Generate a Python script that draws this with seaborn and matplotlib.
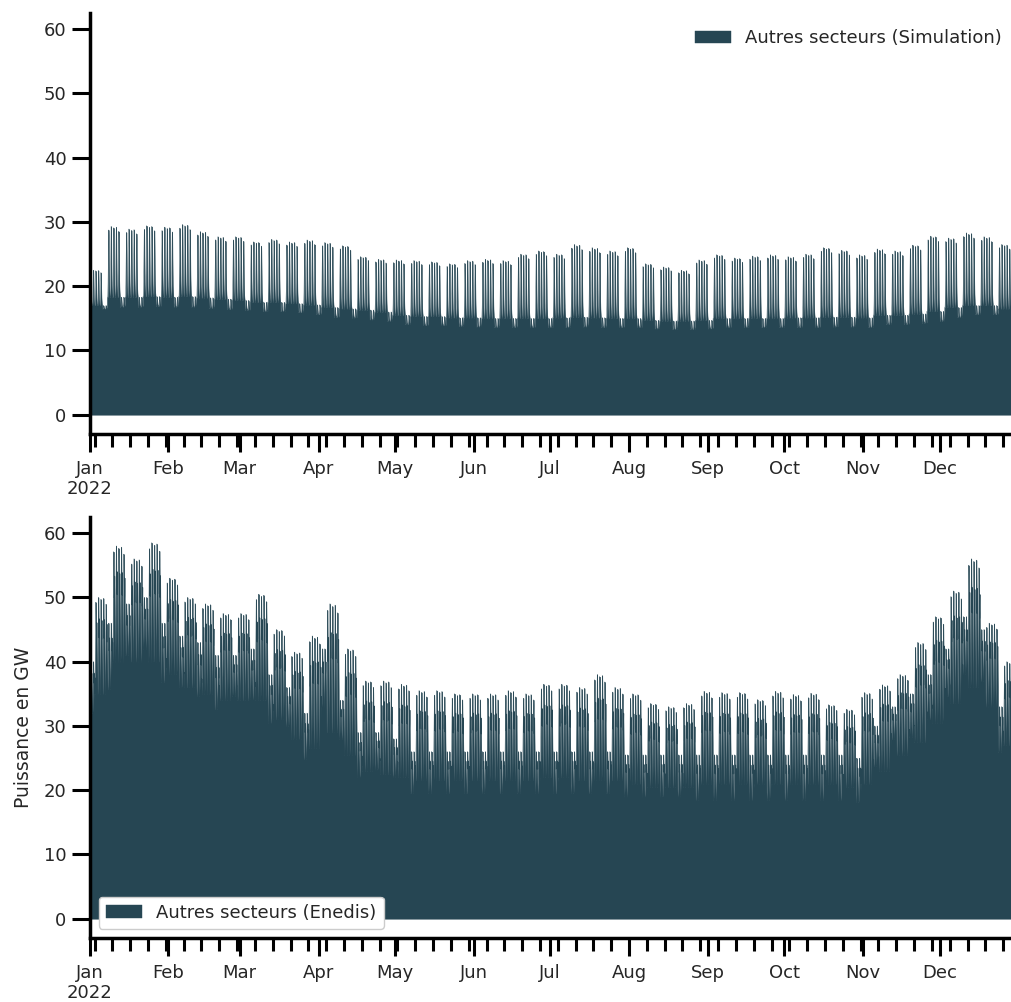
import numpy as np
import pandas as pd
import matplotlib
matplotlib.use("Agg")
import matplotlib.pyplot as plt
import seaborn as sns

# valeurs hebdomadaires (GW), semaine k = jours 7k..7k+6
sim_pointe = [22.5, 29.3, 28.9, 29.4, 29.2, 29.6, 28.5, 27.7, 27.7, 26.9, 27.3, 26.9, 27.2,
              26.8, 26.3, 24.6, 24.2, 24.1, 24.0, 23.8, 23.5, 24.0, 24.2, 24.0, 25.0, 25.5,
              25.0, 26.5, 26.0, 25.5, 26.0, 23.5, 23.0, 22.5, 24.1, 24.9, 24.4, 24.7, 24.9,
              24.6, 25.0, 26.0, 25.6, 24.9, 25.8, 25.5, 26.4, 27.8, 27.5, 28.3, 27.7, 26.5, 26.0]
sim_creux = [17.0, 18.3, 18.3, 18.4, 18.3, 18.4, 18.2, 18.0, 17.8, 17.5, 17.5, 17.3, 17.1,
             16.7, 16.5, 16.3, 16.0, 15.5, 15.3, 15.3, 15.1, 15.1, 15.0, 15.0, 15.0, 15.0,
             15.1, 15.2, 15.1, 15.0, 15.0, 14.7, 14.6, 14.6, 14.7, 15.0, 15.0, 15.0, 15.0,
             15.1, 15.1, 15.2, 15.2, 15.1, 15.5, 15.5, 15.7, 16.1, 16.7, 17.0, 17.0, 16.5, 16.3]
sim_weekend = [16.5, 16.8, 16.8, 16.9, 16.8, 16.8, 16.6, 16.4, 16.3, 16.1, 16.1, 15.9, 15.6,
               15.2, 15.1, 14.8, 14.6, 14.1, 13.9, 13.9, 13.8, 13.7, 13.6, 13.6, 13.6, 13.6,
               13.6, 13.7, 13.6, 13.6, 13.6, 13.4, 13.3, 13.3, 13.4, 13.6, 13.6, 13.6, 13.6,
               13.6, 13.6, 13.7, 13.7, 13.6, 14.1, 14.1, 14.3, 14.6, 15.2, 15.6, 15.6, 15.1, 14.9]

ene_pointe = [50, 58, 56, 58.5, 53, 50, 49, 47.5, 47.5, 50.5, 45, 41.5, 44, 49, 42, 37, 37,
              36.5, 35.5, 35.5, 35, 35, 35, 35.5, 35, 36.5, 36.5, 36, 38, 36, 35, 33.5, 33,
              33.5, 35.4, 35.2, 35.2, 34.1, 35.4, 34.9, 35.1, 33.3, 32.6, 35.2, 36.4, 38, 43,
              47, 51, 56, 46, 40, 40]
ene_creux = [35, 40, 40, 40, 38, 36, 35, 34, 34, 34, 31, 28, 26.5, 29, 25.5, 23, 22.5, 22, 21.5,
             21.5, 21.5, 21.5, 21.5, 21.5, 21.5, 22, 22, 21.5, 21.5, 21.5, 21, 20.5, 20.5, 20.5,
             21, 21, 21, 21, 21, 21, 21, 21, 20.5, 21, 23, 25.5, 27.5, 30.5, 33.5, 36, 33, 27, 27]
ene_we_min = [32, 35.7, 41, 42, 36.8, 36.1, 34.6, 32.6, 34.6, 34.1, 30.5, 29.9, 24.8, 33, 27.9,
              22.1, 23.2, 22.1, 19.5, 19.5, 19.5, 19.5, 19.5, 19.5, 19.5, 19.5, 19.5, 19.5,
              19.5, 19.5, 19, 19, 19, 19, 18.5, 18.5, 18.5, 18.5, 18.5, 18.5, 18.5, 18.5, 18.5,
              18.1, 23.7, 27.9, 28.3, 31, 34.6, 38, 37, 25.9, 28]
ene_we_max = [40, 46, 49, 50, 46, 44, 43, 41, 41, 42, 38, 36, 32, 42, 34, 29, 29, 28, 26, 26,
              26, 26, 26, 26, 26, 26, 26, 26, 26, 26, 25.5, 25.5, 25.5, 25.5, 25.5, 25.5, 25.5,
              25.5, 25.5, 25.5, 25.5, 25.5, 25.5, 25, 30, 33, 35, 38, 42, 47, 45, 33, 36]

# forme journaliere (0 = creux de nuit, 1 = pointe)
profil_sim = [0.0, 0.0, 0.0, 0.0, 0.0, 0.03, 0.1, 0.2, 0.35, 0.55, 0.75, 0.92, 1.0, 0.92,
              0.75, 0.55, 0.38, 0.25, 0.17, 0.12, 0.08, 0.05, 0.03, 0.01]
profil_enedis = [0.18, 0.1, 0.04, 0.0, 0.0, 0.06, 0.2, 0.4, 0.58, 0.72, 0.84, 0.94, 1.0,
                 0.93, 0.8, 0.66, 0.58, 0.62, 0.72, 0.78, 0.66, 0.5, 0.37, 0.26]
# niveau relatif des cinq jours ouvres dans la semaine
niveau_jour = [0.95, 1.0, 0.98, 0.99, 0.93]

couleur = "#264653"

index = pd.date_range("2022-01-01", periods=8760, freq="h")
heure = np.arange(len(index)) % 24
jour = np.arange(len(index)) // 24
sem = jour // 7

nj = np.array(niveau_jour)

sp, sc, sw = np.array(sim_pointe), np.array(sim_creux), np.array(sim_weekend)
ps = np.array(profil_sim)[heure]
sim_ouvre = (jour % 7 < 5)
sim = np.where(sim_ouvre,
               sc[sem] + (sp[sem] - sc[sem]) * ps * nj[np.minimum(jour % 7, 4)],
               sw[sem] + (sc[sem] - sw[sem]) * ps)

ep, ec = np.array(ene_pointe), np.array(ene_creux)
emn, emx = np.array(ene_we_min), np.array(ene_we_max)
pe = np.array(profil_enedis)[heure]
ene_ouvre = (jour % 7 >= 2)
ene = np.where(ene_ouvre,
               ec[sem] + (ep[sem] - ec[sem]) * pe * nj[np.clip(jour % 7 - 2, 0, 4)],
               emn[sem] + (emx[sem] - emn[sem]) * pe)

df_sim = pd.DataFrame({"Autres secteurs (Simulation)": sim}, index=index)
df_ene = pd.DataFrame({"Autres secteurs (Enedis)": ene}, index=index)

sns.set_theme(style="ticks", rc={
    "font.size": 13, "axes.labelsize": 13.5, "xtick.labelsize": 13,
    "ytick.labelsize": 13, "legend.fontsize": 13,
    "axes.linewidth": 2.5, "axes.edgecolor": "black",
    "xtick.major.width": 2.2, "ytick.major.width": 2.2,
    "xtick.minor.width": 2.2, "ytick.minor.width": 2.2,
    "xtick.major.size": 13, "ytick.major.size": 13,
    "xtick.minor.size": 9, "ytick.minor.size": 9,
    "xtick.color": "black", "ytick.color": "black",
    "xtick.labelcolor": ".15", "ytick.labelcolor": ".15",
    "xtick.major.pad": 5.5,
})

fig = plt.figure(figsize=(10.11, 10.02), dpi=100)
larg = 928.8 / 1011
ax1 = fig.add_axes([89.5 / 1011, 568 / 1002, larg, 421 / 1002])
ax2 = fig.add_axes([89.5 / 1011, 64 / 1002, larg, 421 / 1002])

df_sim.plot.area(ax=ax1, color=couleur, linewidth=0.3)
df_ene.plot.area(ax=ax2, color=couleur, linewidth=0.3)

for ax in (ax1, ax2):
    ax.set_ylim(-3, 62.5)
    ax.set_yticks(range(0, 61, 10))
    ax.set_xlabel("")
    sns.despine(ax=ax)

ax1.legend(loc="upper right", frameon=False)
ax2.legend(loc="lower left", framealpha=1)
ax2.set_ylabel("Puissance en GW", labelpad=8)

fig.savefig("out.png", dpi=100)
